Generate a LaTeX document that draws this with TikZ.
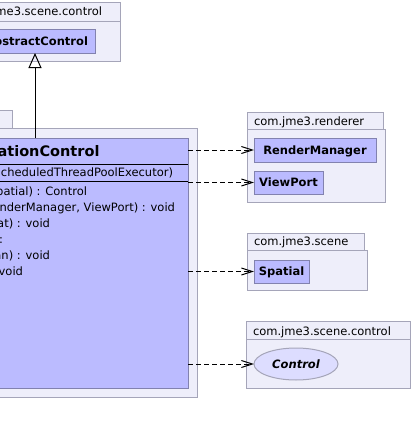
\documentclass[tikz,border=0pt]{standalone}
\usepackage{fontspec}
\setmainfont{DejaVu Sans}
\usetikzlibrary{arrows.meta,shapes.geometric}
\definecolor{pkgfill}{RGB}{238,238,250}
\definecolor{pkgline}{RGB}{165,165,185}
\definecolor{classfill}{RGB}{187,187,255}
\definecolor{classline}{RGB}{130,130,175}
\definecolor{ifacefill}{RGB}{221,221,255}
\newcommand{\membersize}{\fontsize{11.5}{14}\selectfont}
\tikzset{
    every node/.style={inner sep=0pt,outer sep=0pt,},
    package/.style={draw=pkgline,fill=pkgfill,line width=1pt,},
    pkgname/.style={anchor=base west,font=\membersize,},
    classbox/.style={draw=classline,fill=classfill,rectangle,line width=1pt,font=\bfseries\membersize,text height=8.5pt,text depth=0pt,},
    iface/.style={draw=pkgline,fill=ifacefill,ellipse,line width=1pt,font=\bfseries\itshape\membersize,text height=8.5pt,text depth=0pt,},
    member/.style={anchor=base east,font=\membersize,},
    dependency/.style={line width=1pt,dash pattern=on 5pt off 3pt,-{Straight Barb[length=11pt,width=7pt]},},
    inherit/.style={line width=1pt,-{Triangle[open,length=15pt,width=13pt]},},
}

\begin{document}
\begin{tikzpicture}[x=1pt,y=-1pt]
        \useasboundingbox (0,0) rectangle (413,434);
        \clip (0,0) rectangle (413,434);

        % packages
        \draw[package] (-100,2) rectangle (120,21);
        \draw[package] (-100,21) rectangle (120,61);
        \node[pkgname,anchor=base east] (scenectlname) at (102,15.7) {me3.scene.control};

        \draw[package] (-100,110) rectangle (12,128);
        \draw[package] (-100,128) rectangle (197,397);

        \draw[package] (247,112) rectangle (383,129);
        \draw[package] (247,129) rectangle (385,202);
        \node[pkgname] (renderername) at (254,125) {com.jme3.renderer};

        \draw[package] (247,233) rectangle (364,250);
        \draw[package] (247,250) rectangle (367,290);
        \node[pkgname] (scenename) at (254,245.7) {com.jme3.scene};

        \draw[package] (246,321) rectangle (410,339);
        \draw[package] (246,339) rectangle (410,388);
        \node[pkgname] (controlname) at (253,335.7) {com.jme3.scene.control};

        % classes
        \node[classbox,anchor=north,minimum width=120pt,minimum height=24pt] (abstractctl) at (35,29) {};
        \node[member,font=\bfseries\membersize] (abstractname) at (88,45.7) {ostractControl};

        \node[classbox,anchor=north east,minimum width=260pt,minimum height=250pt] (anim) at (188,138) {};
        \draw ([yshift=-26pt]anim.north west) -- ([yshift=-26pt]anim.north east);
        \draw ([yshift=-43pt]anim.north west) -- ([yshift=-43pt]anim.north east);
        \node[member,font=\bfseries\fontsize{14.5}{17}\selectfont] (animname) at (99.5,156.7) {ationControl};
        \node[member] (ctor) at (173,176.7) {cheduledThreadPoolExecutor)};
        \node[member] (clone) at (87,195.7) {patial) : Control};
        \node[member] (render) at (175,211.7) {nderManager, ViewPort) : void};
        \node[member] (update) at (50,227.7) {at) : void};
        \node[member] (getter) at (3,243.7) {:};
        \node[member] (setter) at (50,259.7) {an) : void};
        \node[member] (other) at (23,275.7) {void};

        \node[classbox,anchor=north west,minimum width=122pt,minimum height=24pt] (rendermgr) at (254,138) {RenderManager};
        \node[classbox,anchor=north west,minimum width=69pt,minimum height=23pt] (viewport) at (254,171) {ViewPort};
        \node[classbox,anchor=north west,minimum width=55pt,minimum height=23pt] (spatial) at (254,260) {Spatial};
        \node[iface,minimum width=84pt,minimum height=32pt] (control) at (296,364) {Control};

        % connectors
        \draw[inherit] (abstractctl.south |- anim.north) -- (abstractctl.south);
        \draw[dependency] (anim.east |- rendermgr.west) -- (rendermgr.west);
        \draw[dependency] (anim.east |- viewport.west) -- (viewport.west);
        \draw[dependency] (anim.east |- spatial.west) -- (spatial.west);
        \draw[dependency] (anim.east |- control.west) -- (control.west);
\end{tikzpicture}
\end{document}
